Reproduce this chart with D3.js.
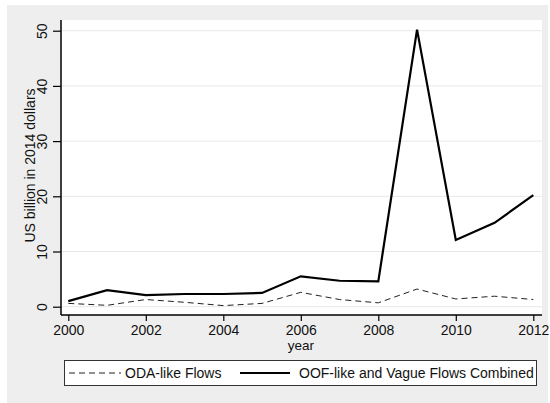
<!DOCTYPE html>
<html>
<head>
<meta charset="utf-8">
<script src="https://cdn.jsdelivr.net/npm/d3@7"></script>
<style>
  html, body { margin: 0; padding: 0; background: #ffffff; }
  svg { display: block; font-family: "Liberation Sans", Arial, sans-serif; }
</style>
</head>
<body>
<svg id="chart" width="550" height="403"></svg>
<script>
// Aid flows by year, US billion in 2014 dollars
const years = [2000, 2001, 2002, 2003, 2004, 2005, 2006, 2007, 2008, 2009, 2010, 2011, 2012];
const odaLike = [0.6, 0.25, 1.3, 0.8, 0.2, 0.6, 2.6, 1.3, 0.7, 3.2, 1.4, 1.9, 1.3];
const oofVague = [1.0, 3.0, 2.1, 2.3, 2.3, 2.5, 5.5, 4.7, 4.6, 50.2, 12.1, 15.2, 20.2];
const xTicks = [2000, 2002, 2004, 2006, 2008, 2010, 2012];
const yTicks = [0, 10, 20, 30, 40, 50];
const seriesNames = ["ODA-like Flows", "OOF-like and Vague Flows Combined"];

const svg = d3.select("#chart");

// outer grey panel
svg.append("rect")
  .attr("x", 7).attr("y", 5).attr("width", 541).attr("height", 398)
  .attr("fill", "#eeeeee");

const plot = { left: 61, right: 542, top: 20, bottom: 315 };

svg.append("rect")
  .attr("x", plot.left).attr("y", plot.top)
  .attr("width", plot.right - plot.left).attr("height", plot.bottom - plot.top)
  .attr("fill", "#ffffff");

const x = d3.scaleLinear().domain([2000, 2012]).range([68.3, 533.3]);
const y = d3.scaleLinear().domain([0, 50]).range([306.7, 30.7]);

// horizontal grid
svg.append("g")
  .selectAll("line")
  .data(yTicks)
  .join("line")
  .attr("x1", plot.left + 1).attr("x2", plot.right)
  .attr("y1", d => y(d)).attr("y2", d => y(d))
  .attr("stroke", "#e8e8e8").attr("stroke-width", 1);

// y axis
const yAxis = svg.append("g")
  .attr("transform", `translate(${plot.left},0)`)
  .call(d3.axisLeft(y).tickValues(yTicks).tickSize(8).tickPadding(5));
yAxis.select(".domain").attr("d", `M0,${plot.top}V${plot.bottom}`).attr("stroke", "#000").attr("stroke-width", 1.5);
yAxis.selectAll(".tick line").attr("stroke", "#000").attr("stroke-width", 1.2);
yAxis.selectAll(".tick text")
  .attr("font-size", 14).attr("fill", "#111")
  .attr("transform", "rotate(-90)")
  .attr("x", 0).attr("y", -19)
  .attr("dy", "0.35em")
  .attr("text-anchor", "middle");

// x axis
const xAxis = svg.append("g")
  .attr("transform", `translate(0,${plot.bottom})`)
  .call(d3.axisBottom(x).tickValues(xTicks).tickFormat(d3.format("d")).tickSize(6).tickPadding(4));
xAxis.select(".domain").attr("d", `M${plot.left},0H${plot.right}`).attr("stroke", "#000").attr("stroke-width", 1.5);
xAxis.selectAll(".tick line").attr("stroke", "#000").attr("stroke-width", 1.2);
xAxis.selectAll(".tick text").attr("font-size", 14).attr("fill", "#111");

// axis titles
svg.append("text")
  .attr("transform", `translate(35,${(plot.top + plot.bottom) / 2 - 2}) rotate(-90)`)
  .attr("text-anchor", "middle")
  .attr("font-size", 14).attr("fill", "#111")
  .text("US billion in 2014 dollars");

svg.append("text")
  .attr("x", x(2006)).attr("y", 350)
  .attr("text-anchor", "middle")
  .attr("font-size", 13.5).attr("fill", "#111")
  .text("year");

// series lines
const line = vals => d3.line()
  .x((d, i) => x(years[i]))
  .y(d => y(d))(vals);

svg.append("path")
  .attr("d", line(odaLike))
  .attr("fill", "none").attr("stroke", "#222")
  .attr("stroke-width", 1).attr("stroke-dasharray", "6,4");

svg.append("path")
  .attr("d", line(oofVague))
  .attr("fill", "none").attr("stroke", "#000")
  .attr("stroke-width", 2.2).attr("stroke-linejoin", "miter");

// legend
const legend = svg.append("g");
legend.append("rect")
  .attr("x", 64.5).attr("y", 360.5).attr("width", 472).attr("height", 25)
  .attr("fill", "#ffffff").attr("stroke", "#333").attr("stroke-width", 1);

legend.append("line")
  .attr("x1", 69).attr("x2", 121).attr("y1", 373).attr("y2", 373)
  .attr("stroke", "#222").attr("stroke-width", 1).attr("stroke-dasharray", "6,4");
legend.append("text")
  .attr("x", 125).attr("y", 378)
  .attr("font-size", 14).attr("fill", "#111")
  .text(seriesNames[0]);

legend.append("line")
  .attr("x1", 240).attr("x2", 290).attr("y1", 373).attr("y2", 373)
  .attr("stroke", "#000").attr("stroke-width", 2.2);
legend.append("text")
  .attr("x", 299).attr("y", 378)
  .attr("font-size", 14).attr("fill", "#111")
  .text(seriesNames[1]);
</script>
</body>
</html>
